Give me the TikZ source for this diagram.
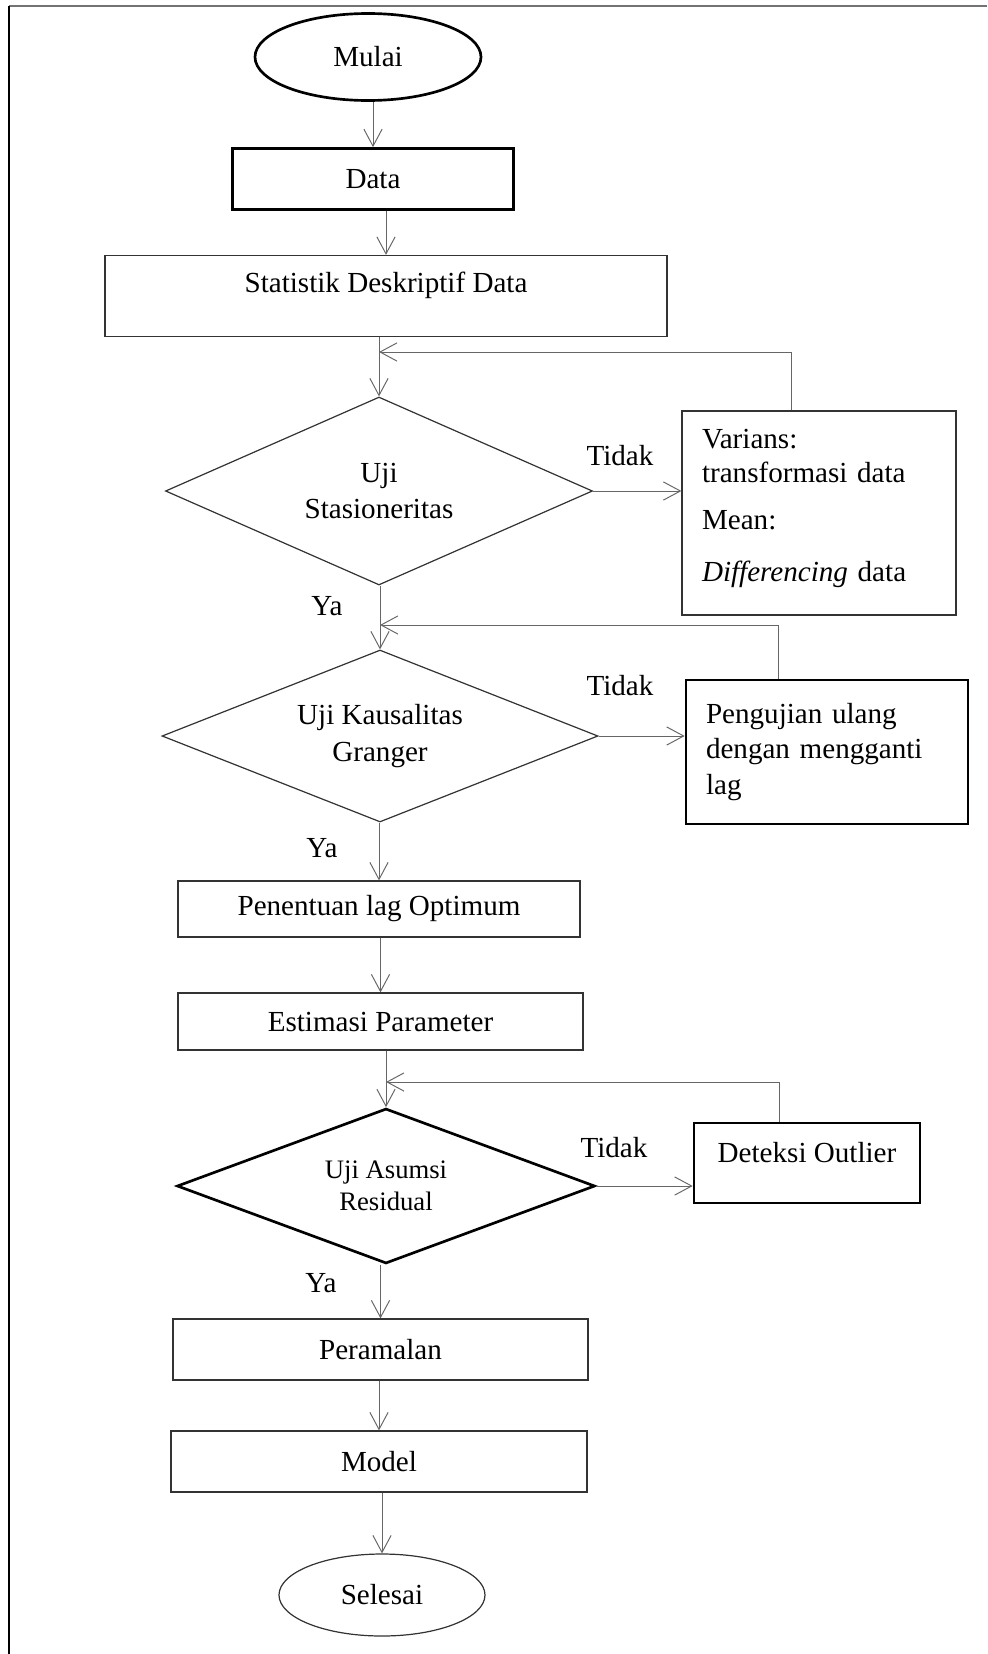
\documentclass[tikz,border=0pt]{standalone}
\usepackage{fontspec}
\setmainfont{Liberation Serif}
\usetikzlibrary{shapes.geometric,arrows.meta}
\newcommand{\pxu}{0.4124pt}

\begin{document}
\begin{tikzpicture}[x=\pxu, y=-\pxu, font=\fontsize{12}{14.8}\selectfont,
	kotak/.style={draw=black!80, line width=0.5pt, inner sep=0pt, align=center},
	tebal/.style={draw=black, line width=1.1pt},
	belah/.style={diamond, shape aspect=2.3, draw=black!80, line width=0.5pt, inner sep=0pt, align=center},
	oval/.style={ellipse, draw=black!80, line width=0.5pt, inner sep=0pt},
	garis/.style={draw=black!60, line width=0.4pt},
	panah/.style={garis, -{Straight Barb[length=7pt,width=7.5pt]}}]
		\useasboundingbox (0,0) rectangle (987,1654);
		\draw[black!55, line width=1pt] (9,6) -- (987,6);
		\draw[black, line width=0.6pt] (9,6) -- (9,1654);

		\node[oval, tebal, minimum width=226*\pxu, minimum height=87*\pxu] (mulai) at (368,57) {Mulai};
		\node[kotak, tebal, minimum width=281*\pxu, minimum height=61*\pxu] (data) at (373,179) {Data};
		\node[kotak, minimum width=562*\pxu, minimum height=81*\pxu, text height=9pt, text depth=11.8pt] (stat) at (386,296) {Statistik Deskriptif Data};
		\node[belah, minimum width=427*\pxu, minimum height=188*\pxu] (uji1) at (379,491) {Uji\\Stasioneritas};
		\node[kotak, align=left, minimum width=274*\pxu, minimum height=204*\pxu, inner xsep=20*\pxu, text width=234*\pxu] (varians) at (819,513) {Varians:\\[-1pt] transformasi data\\[4.5pt] Mean:\\[7pt] \textit{Differencing} data\\[-8.8pt]\mbox{}};
		\node[belah, minimum width=436*\pxu, minimum height=172*\pxu] (uji2) at (380,736) {Uji Kausalitas\\[0.5pt] Granger};
		\node[kotak, tebal, align=left, minimum width=282*\pxu, minimum height=144*\pxu, inner xsep=20*\pxu, text width=242*\pxu] (ulang) at (827,752) {Pengujian ulang\\ dengan mengganti\\ lag};
		\node[kotak, minimum width=402*\pxu, minimum height=56*\pxu] (lag) at (379,909) {Penentuan lag Optimum};
		\node[kotak, minimum width=405*\pxu, minimum height=57*\pxu] (est) at (380.5,1021.5) {Estimasi Parameter};
		\node[belah, tebal, font=\fontsize{11}{13.2}\selectfont, minimum width=418*\pxu, minimum height=155*\pxu] (uji3) at (386,1186) {Uji Asumsi\\ Residual};
		\node[kotak, tebal, minimum width=226*\pxu, minimum height=80*\pxu, text height=9pt, text depth=9.8pt] (outlier) at (807,1163) {Deteksi Outlier};
		\node[kotak, minimum width=415*\pxu, minimum height=61*\pxu] (ramal) at (380.5,1349.5) {Peramalan};
		\node[kotak, minimum width=416*\pxu, minimum height=61*\pxu] (model) at (379,1461.5) {Model};
		\node[oval, minimum width=206*\pxu, minimum height=82*\pxu] (selesai) at (382,1595) {Selesai};

		% label cabang
		\node (tidak1) at (620,456) {Tidak};
		\node (tidak2) at (620,686) {Tidak};
		\node (tidak3) at (614,1148) {Tidak};
		\node (ya1) at (327,606) {Ya};
		\node (ya2) at (322,848) {Ya};
		\node (ya3) at (321,1283) {Ya};

		\foreach \a/\b in {mulai/data,data/stat,stat/uji1,uji1/uji2,uji2/lag,lag/est,est/uji3,uji3/ramal,ramal/model,model/selesai}{
			\draw[panah] (\b.north |- \a.south) -- (\b.north);
			}

		\draw[panah] (uji1.east) -- (varians.west |- uji1.east);
		\draw[panah] (uji2.east) -- (ulang.west |- uji2.east);
		\draw[panah] (uji3.east) -- (outlier.west |- uji3.east);

		% kembali ke alur utama
		\coordinate (b1) at (791,352);
		\coordinate (b2) at (778,625);
		\coordinate (b3) at (779,1082);
		\draw[panah] (b1 |- varians.north) -- (b1) -- (b1 -| uji1.north);
		\draw[panah] (b2 |- ulang.north) -- (b2) -- (b2 -| uji2.north);
		\draw[panah] (b3 |- outlier.north) -- (b3) -- (b3 -| uji3.north);
	\end{tikzpicture}
\end{document}
